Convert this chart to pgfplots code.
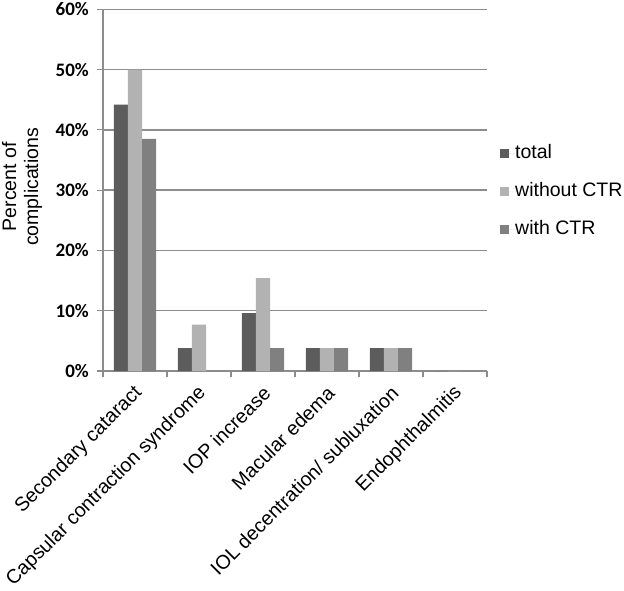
\documentclass[border=0pt]{standalone}
\usepackage{fontspec}
\setmainfont{Liberation Sans}
\newfontfamily\calibri{Carlito}
\usepackage{pgfplots}
\pgfplotsset{compat=1.18}
\definecolor{cTotal}{RGB}{92,92,92}
\definecolor{cWithout}{RGB}{178,178,178}
\definecolor{cWith}{RGB}{128,128,128}
\definecolor{gridgray}{RGB}{140,140,140}

\begin{document}
\begin{tikzpicture}
\begin{axis}[
    at={(0,0)}, anchor=south west,
    scale only axis,
    width=384pt, height=361.7pt,
    xmin=-0.5, xmax=5.5,
    ymin=0, ymax=60,
    ybar=0pt, bar width=14.1pt,
    axis x line*=bottom, axis y line*=left,
    axis line style={gridgray, line width=1.4pt},
    ymajorgrids,
    grid style={gridgray, line width=1.4pt},
    tick align=outside,
    major tick length=6pt,
    tick style={gridgray, line width=1.2pt},
    ytick={0,10,...,60},
    yticklabels={0\%,10\%,20\%,30\%,40\%,50\%,60\%},
    yticklabel style={font=\calibri\bfseries\fontsize{19}{22}\selectfont, inner sep=0pt, xshift=-8pt},
    xtick={-0.5,0.5,...,5.5},
    xticklabels={\mbox{},\mbox{},\mbox{},\mbox{},\mbox{},\mbox{},\mbox{}},
    extra x ticks={0,1,2,3,4,5},
    extra x tick labels={Secondary cataract,Capsular contraction syndrome,IOP increase,Macular edema,IOL decentration/ subluxation,Endophthalmitis},
    extra x tick style={major tick length=0pt, grid=none},
    xticklabel style={xshift=4pt, yshift=-19pt, rotate=45, anchor=east, inner sep=0pt, font=\fontsize{19.7}{24}\selectfont},
    ylabel={Percent of\\complications},
    ylabel style={at={(axis description cs:-0.211,0.509)}, anchor=center, align=center, font=\fontsize{19.5}{22}\selectfont},
    legend style={at={(axis description cs:1,0.495)}, anchor=west, xshift=13pt, draw=none, fill=none,
        inner sep=0pt, row sep=20pt, font=\fontsize{19.5}{23}\selectfont,
        nodes={inner sep=0pt, text height=14pt, text depth=4pt}},
    legend cell align=left,
    legend image code/.code={\fill (0pt,-4.5pt) rectangle (9pt,4.5pt); \path (0pt,0pt) -- (15pt,0pt);},
]
\addplot[fill=cTotal, draw=none] coordinates {(0,44.2) (1,3.8) (2,9.6) (3,3.8) (4,3.8) (5,0)};
\addplot[fill=cWithout, draw=none] coordinates {(0,50) (1,7.7) (2,15.4) (3,3.8) (4,3.8) (5,0)};
\addplot[fill=cWith, draw=none] coordinates {(0,38.5) (1,0) (2,3.8) (3,3.8) (4,3.8) (5,0)};
\legend{total,without CTR,with CTR}
\end{axis}
\pgfresetboundingbox
\path[use as bounding box] (-103pt,-220pt) rectangle (521pt,371pt);
\end{tikzpicture}
\end{document}
